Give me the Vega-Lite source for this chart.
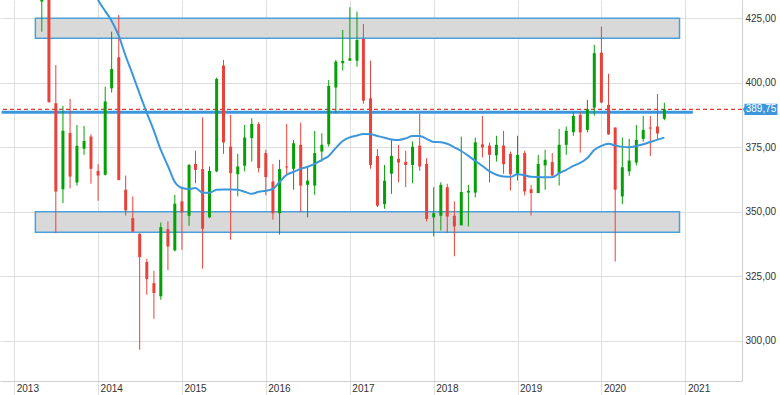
{
  "$schema": "https://vega.github.io/schema/vega-lite/v6.json",
  "width": 742,
  "height": 381,
  "autosize": {"type": "none"},
  "padding": {"left": 0, "top": 0, "right": 38, "bottom": 14},
  "background": "white",
  "config": {
    "view": {"stroke": null},
    "font": "Liberation Sans",
    "axis": {
      "title": null,
      "grid": true,
      "gridColor": "#dedede",
      "gridWidth": 1,
      "domainColor": "#cfcfcf",
      "labelColor": "#333333",
      "labelFont": "Liberation Sans",
      "labelFontSize": 10
    }
  },
  "datasets": {
    "bands": [
      {"start": "2013-04-03", "end": "2020-12-06", "lo": 417.3, "hi": 425},
      {"start": "2013-04-03", "end": "2020-12-06", "lo": 342.1, "hi": 350.1}
    ],
    "levels": [
      {"start": "2012-11-07", "end": "2021-02-02", "value": 388.6}
    ],
    "price": [
      {"value": 389.75, "label": "389,75"}
    ],
    "candles": [
      {"date": "2013-05-01", "o": 431.5, "h": 455, "l": 419.8, "c": 445},
      {"date": "2013-06-01", "o": 445, "h": 450, "l": 392.4, "c": 392.5},
      {"date": "2013-07-01", "o": 392.1, "h": 406.9, "l": 341.8, "c": 357.9},
      {"date": "2013-08-01", "o": 358.8, "h": 391.1, "l": 353.4, "c": 381.4},
      {"date": "2013-09-01", "o": 380.6, "h": 393.8, "l": 359.1, "c": 363.7},
      {"date": "2013-10-01", "o": 361.4, "h": 383.7, "l": 360.2, "c": 375.6},
      {"date": "2013-11-01", "o": 374.5, "h": 383.3, "l": 372.1, "c": 377.5},
      {"date": "2013-12-01", "o": 379.2, "h": 380.1, "l": 360.9, "c": 366.7},
      {"date": "2014-01-01", "o": 365.9, "h": 368.5, "l": 354.3, "c": 364.1},
      {"date": "2014-02-01", "o": 364.4, "h": 398.5, "l": 364.1, "c": 392.8},
      {"date": "2014-03-01", "o": 397.9, "h": 419.8, "l": 396.2, "c": 405.4},
      {"date": "2014-04-01", "o": 409.9, "h": 426.3, "l": 362.2, "c": 362.4},
      {"date": "2014-05-01", "o": 358.6, "h": 364.1, "l": 348.6, "c": 350.6},
      {"date": "2014-06-01", "o": 347.6, "h": 356, "l": 342.2, "c": 342.4},
      {"date": "2014-07-01", "o": 341.5, "h": 341.8, "l": 296.6, "c": 332.5},
      {"date": "2014-08-01", "o": 330.6, "h": 331.9, "l": 317.9, "c": 324},
      {"date": "2014-09-01", "o": 322.4, "h": 327.2, "l": 308.6, "c": 318.6},
      {"date": "2014-10-01", "o": 317.3, "h": 345.9, "l": 316, "c": 344.1},
      {"date": "2014-11-01", "o": 343.3, "h": 346.3, "l": 327.4, "c": 336.6},
      {"date": "2014-12-01", "o": 335.1, "h": 356.6, "l": 334.7, "c": 353.2},
      {"date": "2015-01-01", "o": 354.1, "h": 359.9, "l": 335.3, "c": 349.9},
      {"date": "2015-02-01", "o": 348.5, "h": 368.6, "l": 344.6, "c": 368.2},
      {"date": "2015-03-01", "o": 368.6, "h": 373.7, "l": 361.1, "c": 366.3},
      {"date": "2015-04-01", "o": 366.6, "h": 386.6, "l": 328, "c": 343.5},
      {"date": "2015-05-01", "o": 347.9, "h": 367.6, "l": 347.6, "c": 365.9},
      {"date": "2015-06-01", "o": 365.7, "h": 402, "l": 365.4, "c": 401.5},
      {"date": "2015-07-01", "o": 406.7, "h": 408.9, "l": 372.5, "c": 376.9},
      {"date": "2015-08-01", "o": 375.3, "h": 387.6, "l": 339.2, "c": 365},
      {"date": "2015-09-01", "o": 364.6, "h": 372.5, "l": 356, "c": 367.6},
      {"date": "2015-10-01", "o": 367.9, "h": 383.7, "l": 365.7, "c": 378.8},
      {"date": "2015-11-01", "o": 378.6, "h": 386.3, "l": 369.5, "c": 384.1},
      {"date": "2015-12-01", "o": 384, "h": 384.8, "l": 365.3, "c": 367},
      {"date": "2016-01-01", "o": 372.8, "h": 374.1, "l": 356.4, "c": 363.5},
      {"date": "2016-02-01", "o": 361.8, "h": 368.5, "l": 347, "c": 349.5},
      {"date": "2016-03-01", "o": 349.5, "h": 370.2, "l": 341.2, "c": 366.6},
      {"date": "2016-04-01", "o": 367.6, "h": 384.1, "l": 364.1, "c": 367.2},
      {"date": "2016-05-01", "o": 366.7, "h": 377.9, "l": 358.6, "c": 376.6},
      {"date": "2016-06-01", "o": 376, "h": 384.6, "l": 349.9, "c": 360.2},
      {"date": "2016-07-01", "o": 360.5, "h": 367.6, "l": 347.9, "c": 362.1},
      {"date": "2016-08-01", "o": 360.2, "h": 381.4, "l": 356.6, "c": 372.8},
      {"date": "2016-09-01", "o": 373.4, "h": 380.5, "l": 369.5, "c": 376},
      {"date": "2016-10-01", "o": 376.2, "h": 401.1, "l": 375.3, "c": 398.8},
      {"date": "2016-11-01", "o": 398.2, "h": 408.9, "l": 388.2, "c": 408.2},
      {"date": "2016-12-01", "o": 407.6, "h": 420.5, "l": 404.8, "c": 408.5},
      {"date": "2017-01-01", "o": 408.6, "h": 429.3, "l": 408.6, "c": 409.5},
      {"date": "2017-02-01", "o": 408.6, "h": 427.6, "l": 406.3, "c": 416.6},
      {"date": "2017-03-01", "o": 417, "h": 422.8, "l": 391.9, "c": 393.1},
      {"date": "2017-04-01", "o": 394, "h": 408.6, "l": 366.7, "c": 368.2},
      {"date": "2017-05-01", "o": 371.7, "h": 374.4, "l": 351.9, "c": 352.4},
      {"date": "2017-06-01", "o": 353, "h": 368.2, "l": 351.2, "c": 362.1},
      {"date": "2017-07-01", "o": 364.8, "h": 377.9, "l": 357, "c": 371.7},
      {"date": "2017-08-01", "o": 370.6, "h": 376, "l": 361.5, "c": 369.1},
      {"date": "2017-09-01", "o": 369.4, "h": 373.7, "l": 359.6, "c": 368.2},
      {"date": "2017-10-01", "o": 368.2, "h": 377.3, "l": 361.1, "c": 375.3},
      {"date": "2017-11-01", "o": 375.7, "h": 388, "l": 365.9, "c": 367.6},
      {"date": "2017-12-01", "o": 368.6, "h": 370.8, "l": 346.3, "c": 347.3},
      {"date": "2018-01-01", "o": 347.9, "h": 359.6, "l": 340.5, "c": 349.5},
      {"date": "2018-02-01", "o": 348.5, "h": 361.5, "l": 342.8, "c": 360.5},
      {"date": "2018-03-01", "o": 359.6, "h": 360.9, "l": 341.8, "c": 348.2},
      {"date": "2018-04-01", "o": 348.5, "h": 354.1, "l": 332.8, "c": 344.4},
      {"date": "2018-05-01", "o": 344.8, "h": 379.2, "l": 344.8, "c": 357.7},
      {"date": "2018-06-01", "o": 357.5, "h": 360.5, "l": 344.4, "c": 358.2},
      {"date": "2018-07-01", "o": 357.5, "h": 378.8, "l": 355.6, "c": 377},
      {"date": "2018-08-01", "o": 376.2, "h": 387.2, "l": 371.1, "c": 375},
      {"date": "2018-09-01", "o": 375.7, "h": 376.9, "l": 361.4, "c": 372.1},
      {"date": "2018-10-01", "o": 371.9, "h": 379.5, "l": 369.5, "c": 376},
      {"date": "2018-11-01", "o": 375.7, "h": 381.4, "l": 364.8, "c": 368.5},
      {"date": "2018-12-01", "o": 372.5, "h": 373.4, "l": 358.3, "c": 364.6},
      {"date": "2019-01-01", "o": 364.8, "h": 379.5, "l": 362.2, "c": 372.1},
      {"date": "2019-02-01", "o": 372.8, "h": 373.7, "l": 356.4, "c": 357.9},
      {"date": "2019-03-01", "o": 358.8, "h": 360.5, "l": 348.6, "c": 357.3},
      {"date": "2019-04-01", "o": 357.3, "h": 372.1, "l": 357.3, "c": 368.6},
      {"date": "2019-05-01", "o": 368, "h": 374.1, "l": 358.6, "c": 370.2},
      {"date": "2019-06-01", "o": 369.3, "h": 372.8, "l": 363.7, "c": 364.1},
      {"date": "2019-07-01", "o": 365, "h": 382.2, "l": 360.2, "c": 376},
      {"date": "2019-08-01", "o": 376, "h": 383.1, "l": 372.1, "c": 381.4},
      {"date": "2019-09-01", "o": 380.9, "h": 388.6, "l": 379.5, "c": 387.2},
      {"date": "2019-10-01", "o": 387.6, "h": 388.6, "l": 373, "c": 380.8},
      {"date": "2019-11-01", "o": 381.8, "h": 393.4, "l": 380.8, "c": 389.8},
      {"date": "2019-12-01", "o": 390.4, "h": 414.7, "l": 387.3, "c": 411.5},
      {"date": "2020-01-01", "o": 411.7, "h": 421.8, "l": 392.1, "c": 392.4},
      {"date": "2020-02-01", "o": 391.5, "h": 403.5, "l": 379.9, "c": 380},
      {"date": "2020-03-01", "o": 382.7, "h": 382.7, "l": 330.8, "c": 358.6},
      {"date": "2020-04-01", "o": 356, "h": 378.8, "l": 353, "c": 367.3},
      {"date": "2020-05-01", "o": 365.7, "h": 378.3, "l": 364, "c": 369.9},
      {"date": "2020-06-01", "o": 369.1, "h": 383.7, "l": 368, "c": 377.9},
      {"date": "2020-07-01", "o": 378.3, "h": 387.2, "l": 377.2, "c": 381.8},
      {"date": "2020-08-01", "o": 382.7, "h": 387.2, "l": 371.7, "c": 382.3},
      {"date": "2020-09-01", "o": 383.1, "h": 395.7, "l": 378.1, "c": 380.4},
      {"date": "2020-10-01", "o": 386.1, "h": 392.3, "l": 385.5, "c": 389.75}
    ],
    "ma": [
      {"date": "2013-12-01", "v": 438.5},
      {"date": "2014-01-01", "v": 432.1},
      {"date": "2014-02-01", "v": 427.8},
      {"date": "2014-03-01", "v": 424},
      {"date": "2014-04-01", "v": 418.2},
      {"date": "2014-05-01", "v": 410.4},
      {"date": "2014-06-01", "v": 403.1},
      {"date": "2014-07-01", "v": 395.7},
      {"date": "2014-08-01", "v": 388.4},
      {"date": "2014-09-01", "v": 381.4},
      {"date": "2014-10-01", "v": 374},
      {"date": "2014-11-01", "v": 367.8},
      {"date": "2014-12-01", "v": 361.6},
      {"date": "2015-01-01", "v": 359.3},
      {"date": "2015-02-01", "v": 358.9},
      {"date": "2015-03-01", "v": 359.3},
      {"date": "2015-04-01", "v": 357.4},
      {"date": "2015-05-01", "v": 357.4},
      {"date": "2015-06-01", "v": 358.6},
      {"date": "2015-07-01", "v": 358.7},
      {"date": "2015-08-01", "v": 358.7},
      {"date": "2015-09-01", "v": 358.6},
      {"date": "2015-10-01", "v": 357.8},
      {"date": "2015-11-01", "v": 357},
      {"date": "2015-12-01", "v": 357.8},
      {"date": "2016-01-01", "v": 358.2},
      {"date": "2016-02-01", "v": 358.9},
      {"date": "2016-03-01", "v": 361.6},
      {"date": "2016-04-01", "v": 364.4},
      {"date": "2016-05-01", "v": 365.5},
      {"date": "2016-06-01", "v": 366.7},
      {"date": "2016-07-01", "v": 367.5},
      {"date": "2016-08-01", "v": 368.6},
      {"date": "2016-09-01", "v": 370.2},
      {"date": "2016-10-01", "v": 371.7},
      {"date": "2016-11-01", "v": 374.8},
      {"date": "2016-12-01", "v": 377.5},
      {"date": "2017-01-01", "v": 378.9},
      {"date": "2017-02-01", "v": 379.6},
      {"date": "2017-03-01", "v": 380.2},
      {"date": "2017-04-01", "v": 380.1},
      {"date": "2017-05-01", "v": 379.4},
      {"date": "2017-06-01", "v": 378.7},
      {"date": "2017-07-01", "v": 378.1},
      {"date": "2017-08-01", "v": 377.9},
      {"date": "2017-09-01", "v": 378.5},
      {"date": "2017-10-01", "v": 379.4},
      {"date": "2017-11-01", "v": 379.4},
      {"date": "2017-12-01", "v": 378.3},
      {"date": "2018-01-01", "v": 377.1},
      {"date": "2018-02-01", "v": 377},
      {"date": "2018-03-01", "v": 376.4},
      {"date": "2018-04-01", "v": 375},
      {"date": "2018-05-01", "v": 373.6},
      {"date": "2018-06-01", "v": 371.7},
      {"date": "2018-07-01", "v": 369.8},
      {"date": "2018-08-01", "v": 367.8},
      {"date": "2018-09-01", "v": 365.7},
      {"date": "2018-10-01", "v": 364.4},
      {"date": "2018-11-01", "v": 363.7},
      {"date": "2018-12-01", "v": 363.6},
      {"date": "2019-01-01", "v": 364.6},
      {"date": "2019-02-01", "v": 364.2},
      {"date": "2019-03-01", "v": 363.6},
      {"date": "2019-04-01", "v": 363.5},
      {"date": "2019-05-01", "v": 363.4},
      {"date": "2019-06-01", "v": 363.4},
      {"date": "2019-07-01", "v": 365},
      {"date": "2019-08-01", "v": 366.3},
      {"date": "2019-09-01", "v": 367.8},
      {"date": "2019-10-01", "v": 369},
      {"date": "2019-11-01", "v": 370.9},
      {"date": "2019-12-01", "v": 374},
      {"date": "2020-01-01", "v": 375.6},
      {"date": "2020-02-01", "v": 376.4},
      {"date": "2020-03-01", "v": 375.8},
      {"date": "2020-04-01", "v": 375.2},
      {"date": "2020-05-01", "v": 375.1},
      {"date": "2020-06-01", "v": 375.5},
      {"date": "2020-07-01", "v": 376.2},
      {"date": "2020-08-01", "v": 377.1},
      {"date": "2020-09-01", "v": 378},
      {"date": "2020-10-01", "v": 378.8}
    ]
  },
  "layer": [
    {
      "data": {"name": "bands"},
      "mark": {"type": "rect", "fill": "#d9d9d9", "stroke": "#4b9fdb", "strokeWidth": 1.5, "clip": true},
      "encoding": {
        "x": {
          "field": "start", "type": "temporal",
          "scale": {"type": "utc", "padding": 0, "nice": false, "domain": [{"year": 2012, "month": 10, "date": 31, "utc": true}, {"year": 2021, "month": 9, "date": 4, "utc": true}]},
          "axis": {
            "orient": "bottom",
            "values": [{"year": 2013, "utc": true}, {"year": 2014, "utc": true}, {"year": 2015, "utc": true}, {"year": 2016, "utc": true}, {"year": 2017, "utc": true}, {"year": 2018, "utc": true}, {"year": 2019, "utc": true}, {"year": 2020, "utc": true}, {"year": 2021, "utc": true}],
            "format": "%Y",
            "ticks": true,
            "tickSize": 14,
            "tickColor": "#dedede",
            "labelAlign": "left",
            "labelBaseline": "middle",
            "labelPadding": -7,
            "labelOffset": 2,
            "labelFlush": false,
            "labelOverlap": false
          }
        },
        "x2": {"field": "end"},
        "y": {
          "field": "lo", "type": "quantitative",
          "scale": {"domain": [284.5, 432.1], "nice": false, "zero": false, "padding": 0},
          "axis": {
            "orient": "right",
            "values": [300, 325, 350, 375, 400, 425],
            "ticks": false,
            "labelPadding": 3,
            "labelBaseline": "middle",
            "labelAlign": "left",
            "labelFlush": false,
            "labelExpr": "replace(format(datum.value, '.2f'), '.', ',')"
          }
        },
        "y2": {"field": "hi"}
      }
    },
    {
      "data": {"name": "price"},
      "mark": {"type": "rule", "color": "#df3b32", "strokeWidth": 1.3, "strokeDash": [4, 3]},
      "encoding": {
        "y": {"field": "value", "type": "quantitative"}
      }
    },
    {
      "data": {"name": "levels"},
      "mark": {"type": "rule", "color": "#3b97dc", "strokeWidth": 3, "clip": true},
      "encoding": {
        "x": {"field": "start", "type": "temporal"},
        "x2": {"field": "end"},
        "y": {"field": "value", "type": "quantitative"}
      }
    },
    {
      "data": {"name": "candles"},
      "mark": {"type": "rule", "strokeWidth": 1, "clip": true},
      "encoding": {
        "x": {"field": "date", "type": "temporal"},
        "y": {"field": "l", "type": "quantitative"},
        "y2": {"field": "h"},
        "color": {"condition": {"test": "datum.c >= datum.o", "value": "#05a005"}, "value": "#e8423a"}
      }
    },
    {
      "data": {"name": "candles"},
      "mark": {"type": "bar", "size": 3, "clip": true},
      "encoding": {
        "x": {"field": "date", "type": "temporal"},
        "y": {"field": "o", "type": "quantitative"},
        "y2": {"field": "c"},
        "color": {"condition": {"test": "datum.c >= datum.o", "value": "#05a005"}, "value": "#e8423a"}
      }
    },
    {
      "data": {"name": "ma"},
      "mark": {"type": "line", "color": "#3b97dc", "strokeWidth": 2, "interpolate": "monotone", "clip": true},
      "encoding": {
        "x": {"field": "date", "type": "temporal"},
        "y": {"field": "v", "type": "quantitative"}
      }
    },
    {
      "data": {"name": "price"},
      "mark": {"type": "point", "filled": true, "color": "#3b97dc", "opacity": 1, "size": 272, "clip": false,
        "shape": "M0.12,0 L0.3,-0.35 L0.3,-0.69 L4.3,-0.69 L4.3,0.69 L0.3,0.69 L0.3,0.35 Z"},
      "encoding": {
        "x": {"value": "width"},
        "y": {"field": "value", "type": "quantitative"}
      }
    },
    {
      "data": {"name": "price"},
      "mark": {"type": "text", "color": "white", "font": "Liberation Sans", "fontSize": 10, "align": "center", "baseline": "middle", "dx": 19, "clip": false},
      "encoding": {
        "x": {"value": "width"},
        "y": {"field": "value", "type": "quantitative"},
        "text": {"field": "label"}
      }
    }
  ]
}
